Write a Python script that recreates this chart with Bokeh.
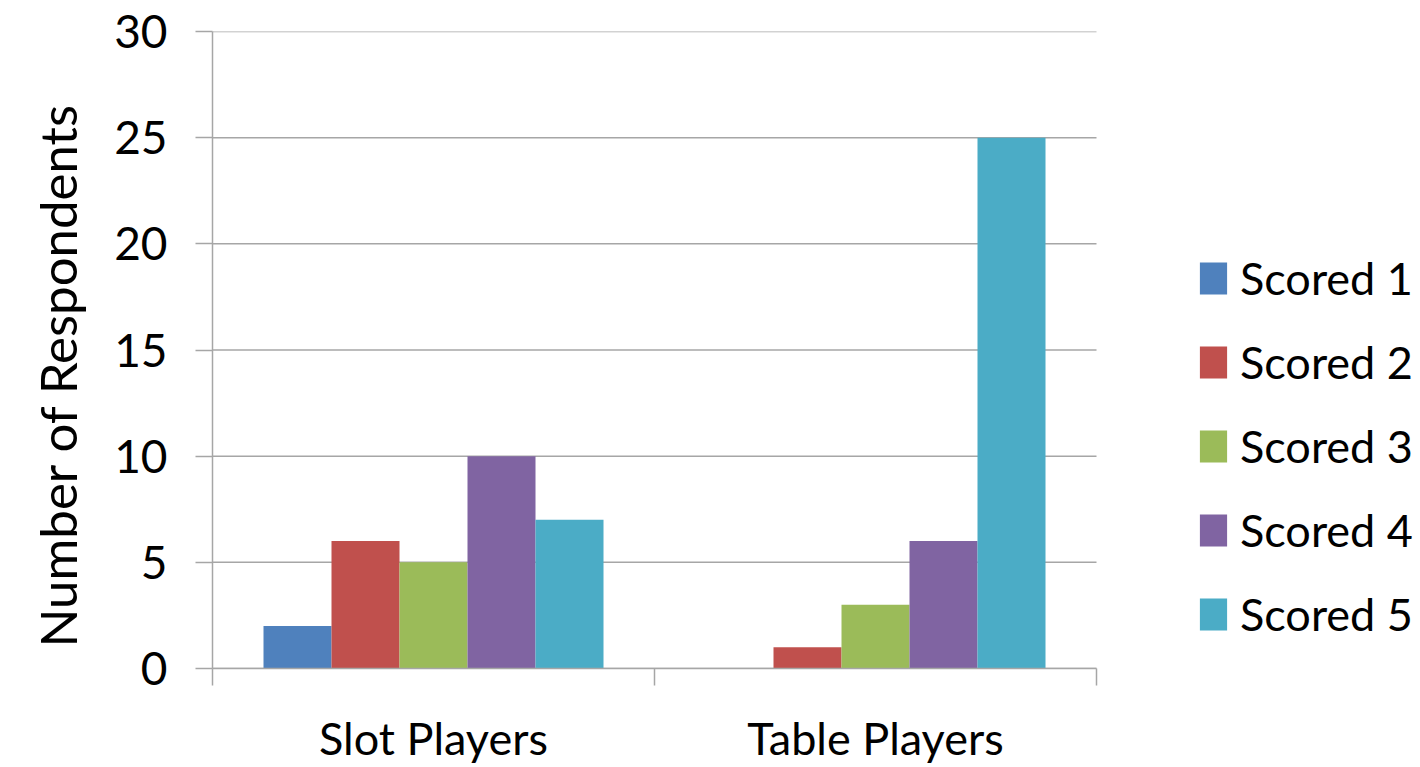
from bokeh.plotting import figure
from bokeh.models import ColumnDataSource, Legend, LegendItem, FixedTicker, Range1d, Title
from bokeh.embed import file_html
from bokeh.resources import INLINE

categories = ["Slot Players", "Table Players"]
series = ["Scored 1", "Scored 2", "Scored 3", "Scored 4", "Scored 5"]
values = {
    "Scored 1": [2, 0],
    "Scored 2": [6, 1],
    "Scored 3": [5, 3],
    "Scored 4": [10, 6],
    "Scored 5": [7, 25],
}
colors = ["#4F81BD", "#C0504D", "#9BBB59", "#8064A2", "#4BACC6"]
y_ticks = [0, 5, 10, 15, 20, 25, 30]
y_label = "Number of Respondents"

FONT = "Lato"
W, H = 1420, 767
LEFT, PLOT_RIGHT = 212, 1096
n = len(categories)
x_end = n * (W - LEFT) / (PLOT_RIGHT - LEFT)

p = figure(width=W, height=H, output_backend="svg", toolbar_location=None,
           x_range=Range1d(0, x_end), y_range=Range1d(0, 30),
           min_border_left=LEFT, min_border_right=0, min_border_top=31, min_border_bottom=99)
p.outline_line_color = None
p.background_fill_color = "white"

# horizontal grid lines only over the plot area
p.segment(x0=[0] * len(y_ticks), x1=[n] * len(y_ticks), y0=y_ticks, y1=y_ticks,
          line_color="#a6a6a6", line_width=1.5, level="underlay")

bar_w = 68 / 442
gap = 51 / 442
items = []
for i, s in enumerate(series):
    xs = [ci + gap + bar_w * (i + 0.5) for ci in range(n)]
    src = ColumnDataSource(dict(x=xs, top=values[s]))
    r = p.vbar(x="x", top="top", bottom=0, width=bar_w, source=src,
               fill_color=colors[i], line_color=None)
    items.append(LegendItem(label=s, renderers=[r]))

# x axis
p.xaxis.bounds = (0, n)
p.xaxis.ticker = FixedTicker(ticks=[c + 0.5 for c in range(n)],
                             minor_ticks=list(range(n + 1)))
p.xaxis.major_label_overrides = {c + 0.5: name for c, name in enumerate(categories)}
p.xaxis.major_tick_out = 0
p.xaxis.major_tick_in = 0
p.xaxis.minor_tick_out = 17
p.xaxis.minor_tick_in = 0
p.xaxis.minor_tick_line_color = "#a6a6a6"
p.xaxis.minor_tick_line_width = 1.5
p.xaxis.axis_line_color = "#a6a6a6"
p.xaxis.axis_line_width = 1.5
p.xaxis.major_label_standoff = 25
p.xaxis.major_label_text_font = FONT
p.xaxis.major_label_text_font_size = "45px"
p.xaxis.major_label_text_color = "black"

# y axis
p.yaxis.ticker = FixedTicker(ticks=y_ticks)
p.yaxis.minor_tick_line_color = None
p.yaxis.major_tick_out = 17
p.yaxis.major_tick_in = 0
p.yaxis.major_tick_line_color = "#a6a6a6"
p.yaxis.major_tick_line_width = 1.5
p.yaxis.axis_line_color = "#a6a6a6"
p.yaxis.axis_line_width = 1.5
p.yaxis.major_label_standoff = 28
p.yaxis.major_label_text_font = FONT
p.yaxis.major_label_text_font_size = "46px"
p.yaxis.major_label_text_color = "black"

ttl = Title(text=y_label, align="left", offset=21, standoff=44, vertical_align="top",
            text_font=FONT, text_font_size="51px", text_font_style="normal",
            text_color="black")
p.add_layout(ttl, "left")

p.xgrid.grid_line_color = None
p.ygrid.grid_line_color = None

legend = Legend(items=items, location=(984, 27), orientation="vertical",
                border_line_color=None, background_fill_alpha=0,
                padding=0, margin=0, spacing=30,
                glyph_width=34, glyph_height=40, label_height=36,
                label_standoff=10, label_text_font=FONT,
                label_text_font_size="45px", label_text_color="black")
p.add_layout(legend, "center")

open("out.html", "w").write(file_html(p, INLINE))
